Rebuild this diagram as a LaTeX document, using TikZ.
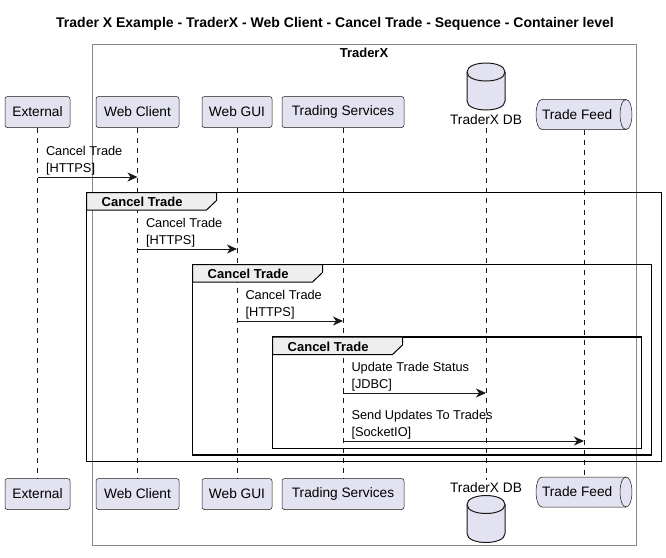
\documentclass[tikz,border=0pt]{standalone}
\usepackage{fontspec}
\setmainfont{Liberation Sans}
\usetikzlibrary{arrows.meta}
\definecolor{partfill}{HTML}{E2E2F0}
\definecolor{partline}{HTML}{181818}
\definecolor{tabfill}{HTML}{EEEEEE}
\definecolor{boxline}{HTML}{888888}
\newcommand\cgroup[5]{%
  \draw[grp] (#1,#2) rectangle (#3,#4);
  \draw[tabline] (#1,#2) -- (#1+130,#2) -- (#1+130,#2+8) -- (#1+120,#2+17.5) -- (#1,#2+17.5) -- cycle;
  \node[tab] (#5) at (#1+15,#2+9.5) {Cancel Trade};}
\newcommand\dbshape[2]{%
  \draw[dbline] (#1-19,#2-14.5) -- (#1-19,#2+14.5) .. controls (#1-19,#2+26.5) and (#1+19,#2+26.5) .. (#1+19,#2+14.5)
    -- (#1+19,#2-14.5) .. controls (#1+19,#2-26.5) and (#1-19,#2-26.5) .. cycle;
  \draw[dbline,fill=none] (#1-19,#2-14.5) .. controls (#1-19,#2-2.5) and (#1+19,#2-2.5) .. (#1+19,#2-14.5);}
\newcommand\queueshape[2]{%
  \draw[qline] (#1-42,#2-15) -- (#1+42,#2-15) .. controls (#1+50,#2-15) and (#1+50,#2+15) .. (#1+42,#2+15)
    -- (#1-42,#2+15) .. controls (#1-50,#2+15) and (#1-50,#2-15) .. cycle;
  \draw[qline,fill=none] (#1+42,#2-15) .. controls (#1+34,#2-15) and (#1+34,#2+15) .. (#1+42,#2+15);}
\begin{document}
\begin{tikzpicture}[x=1pt,y=-1pt,
  part/.style={draw=partline,fill=partfill,rounded corners=2.5pt,line width=0.5pt,minimum height=31pt,inner sep=0pt,font=\fontsize{13.7}{16}\selectfont},
  dbline/.style={draw=partline,fill=partfill,line width=1pt},
  qline/.style={draw=partline,fill=partfill,line width=0.5pt},
  qpart/.style={minimum height=30pt,inner sep=0pt,font=\fontsize{13.7}{16}\selectfont},
  dblabel/.style={inner sep=0pt,minimum height=16pt,font=\fontsize{13.7}{16}\selectfont},
  lifeline/.style={draw=partline,line width=0.5pt,dash pattern=on 5pt off 5pt},
  msg/.style={draw=partline,line width=1pt,-{Stealth[length=10pt,width=9pt,inset=3pt]}},
  msglbl/.style={anchor=south west,align=left,inner sep=0pt,xshift=8pt,yshift=1.5pt,font=\fontsize{12.8}{17}\selectfont},
  grp/.style={draw=black,line width=1.5pt},
  tabline/.style={draw=black,line width=1pt,fill=tabfill},
  tab/.style={anchor=west,inner sep=0pt,font=\bfseries\fontsize{13}{15}\selectfont}]
\useasboundingbox (0,0) rectangle (666,557);
\def\ytop{112} \def\ybot{494}
\node[font=\bfseries\fontsize{14}{16}\selectfont] (title) at (335,24) {Trader X Example - TraderX - Web Client - Cancel Trade - Sequence - Container level};
\draw[boxline,line width=0.8pt] (92,44) rectangle (636,545);
\node[font=\bfseries\fontsize{13}{15}\selectfont] (traderx) at (364,53) {TraderX};

\node[part,minimum width=65pt] (ext) at (37.5,\ytop) {External};
\node[part,minimum width=83pt] (wc) at (137.5,\ytop) {Web Client};
\node[part,minimum width=70pt] (gui) at (237,\ytop) {Web GUI};
\node[part,minimum width=122pt] (ts) at (343,\ytop) {Trading Services};
\dbshape{486}{86.5}
\node[dblabel] (dbl) at (486,120) {TraderX DB};
\queueshape{584}{114.5}
\node[qpart] (tf) at (584,114.5) {\makebox[96pt][l]{\hspace{6pt}Trade Feed}};

\node[part,minimum width=65pt] (ext2) at (37.5,\ybot) {External};
\node[part,minimum width=83pt] (wc2) at (137.5,\ybot) {Web Client};
\node[part,minimum width=70pt] (gui2) at (237,\ybot) {Web GUI};
\node[part,minimum width=122pt] (ts2) at (343,\ybot) {Trading Services};
\node[dblabel] (dbl2) at (486,488) {TraderX DB};
\dbshape{486}{519}
\queueshape{584}{492}
\node[qpart] (tf2) at (584,492) {\makebox[96pt][l]{\hspace{6pt}Trade Feed}};

\foreach \a/\b in {ext/ext2,wc/wc2,gui/gui2,ts/ts2,dbl/dbl2,tf/tf2}
  \draw[lifeline] (\a.south) -- (\b.north);

\cgroup{86.5}{192.5}{661.5}{461.5}{g1}
\cgroup{192.5}{264.5}{651.5}{455}{g2}
\cgroup{272.5}{337}{641.5}{448.5}{g3}

\draw[msg] (ext |- 0,177) -- (wc |- 0,177) node[msglbl,at start] {Cancel Trade\\{[HTTPS]}};
\draw[msg] (wc |- 0,249) -- (gui |- 0,249) node[msglbl,at start] {Cancel Trade\\{[HTTPS]}};
\draw[msg] (gui |- 0,321) -- (ts |- 0,321) node[msglbl,at start] {Cancel Trade\\{[HTTPS]}};
\draw[msg] (ts |- 0,393) -- (dbl |- 0,393) node[msglbl,at start] {Update Trade Status\\{[JDBC]}};
\draw[msg] (ts |- 0,441) -- (tf |- 0,441) node[msglbl,at start] {Send Updates To Trades\\{[SocketIO]}};
\end{tikzpicture}
\end{document}
